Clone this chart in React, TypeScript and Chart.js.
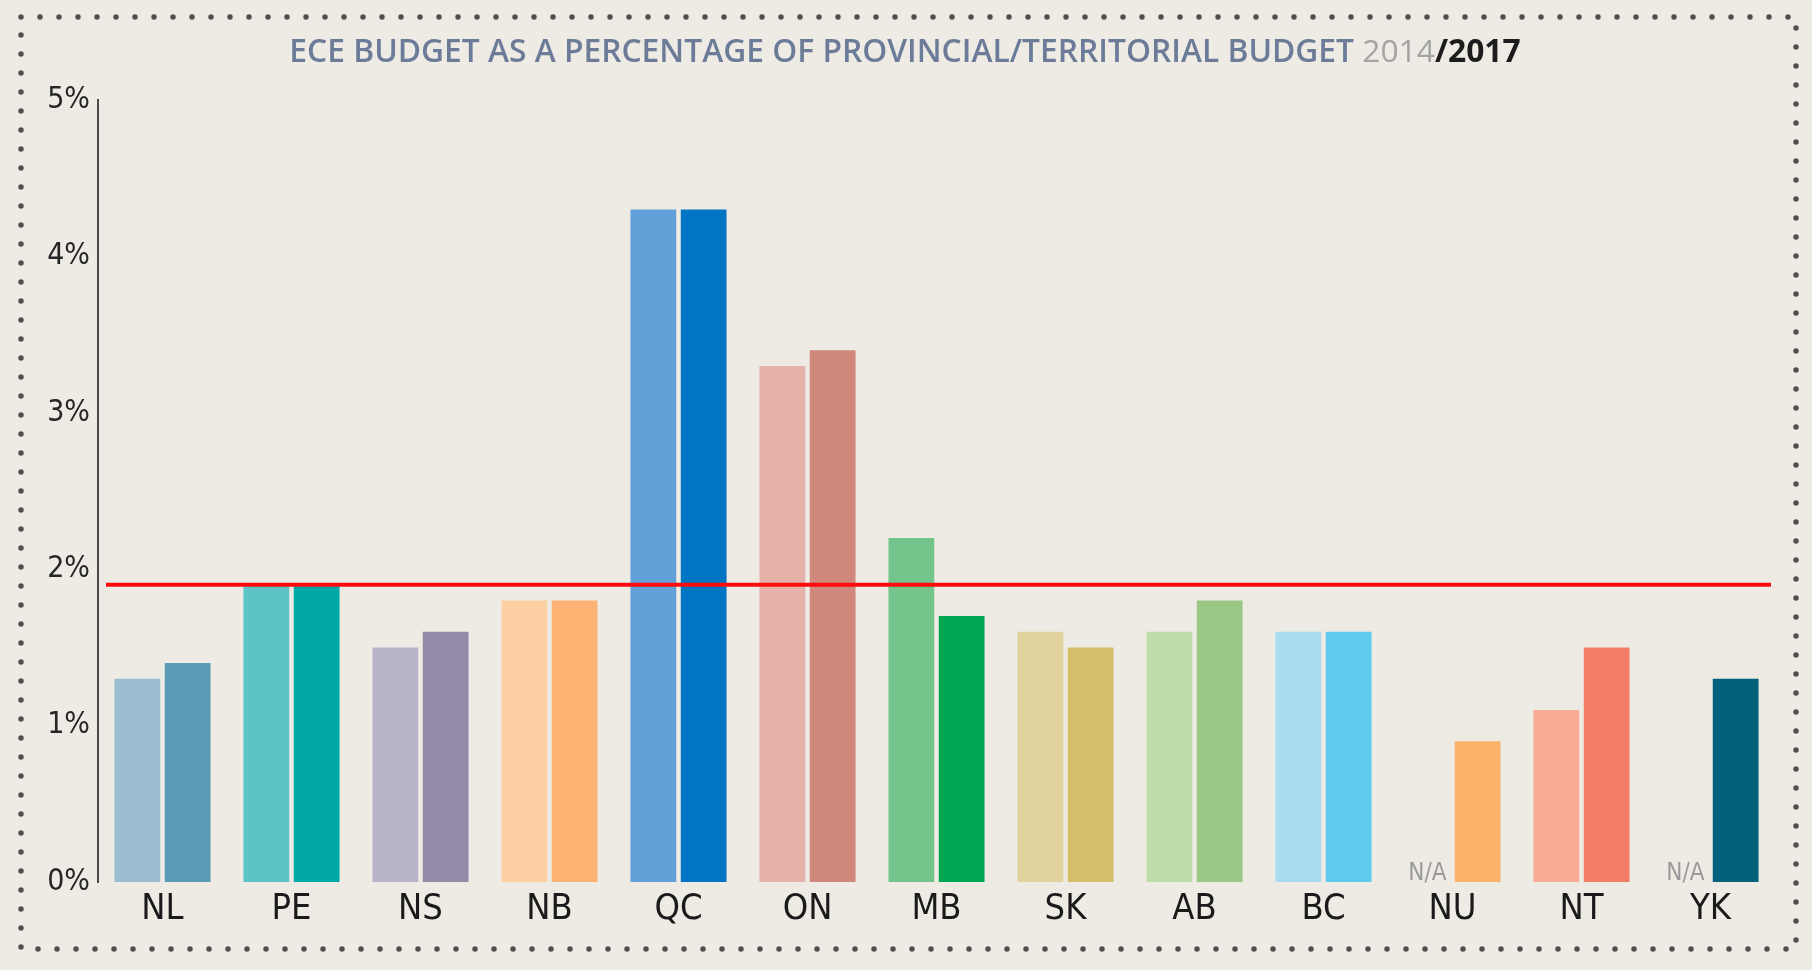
import React, { useEffect, useRef } from "react";
import { Chart, registerables } from "chart.js";

Chart.register(...registerables);

const categories = ["NL", "PE", "NS", "NB", "QC", "ON", "MB", "SK", "AB", "BC", "NU", "NT", "YK"];
const values2014: (number | null)[] = [1.3, 1.9, 1.5, 1.8, 4.3, 3.3, 2.2, 1.6, 1.6, 1.6, null, 1.1, null];
const values2017: (number | null)[] = [1.4, 1.9, 1.6, 1.8, 4.3, 3.4, 1.7, 1.5, 1.8, 1.6, 0.9, 1.5, 1.3];
const colors2014 = ["#9bbdd0", "#5cc4c6", "#b9b3c9", "#fdd0a4", "#639fd8", "#e4b2a8", "#73c58c", "#e1d39d", "#bedca9", "#a7dbf0", "#fdd0a4", "#f9ab95", "#5a9cb5"];
const colors2017 = ["#5b9bb6", "#00a8a6", "#948aa8", "#fbb273", "#0075c3", "#d0877c", "#00a651", "#d5be6a", "#9ac786", "#60caed", "#fdb26a", "#f27e68", "#03607a"];
const yTicks = [0, 1, 2, 3, 4, 5];
const referenceLine = 1.9;
const naLabel = "N/A";
const titleParts = [
  { text: "ECE BUDGET AS A PERCENTAGE OF PROVINCIAL/TERRITORIAL BUDGET ", color: "#6c7c98", weight: "600" },
  { text: "2014", color: "#a4a4a4", weight: "400" },
  { text: "/2017", color: "#1c1c1c", weight: "700" },
];

const decorPlugin = {
  id: "decor",
  beforeDraw(chart: any) {
    const ctx = chart.ctx;
    ctx.save();
    ctx.strokeStyle = "#505050";
    ctx.lineWidth = 5.5;
    ctx.lineCap = "round";
    ctx.setLineDash([0, 19]);
    ctx.beginPath();
    ctx.rect(21, 17, 1775, 932);
    ctx.stroke();
    ctx.restore();
  },
  afterDatasetsDraw(chart: any) {
    const ctx = chart.ctx;
    const ys = chart.scales.y;
    const area = chart.chartArea;
    const y = ys.getPixelForValue(referenceLine);
    ctx.save();
    ctx.strokeStyle = "#fb0d0d";
    ctx.lineWidth = 4;
    ctx.beginPath();
    ctx.moveTo(area.left + 8, y);
    ctx.lineTo(area.right - 4, y);
    ctx.stroke();

    const meta = chart.getDatasetMeta(0);
    ctx.fillStyle = "#9a9a9a";
    ctx.font = "300 24px 'DejaVu Sans Condensed', 'DejaVu Sans', sans-serif";
    ctx.textAlign = "center";
    ctx.textBaseline = "alphabetic";
    values2014.forEach((v, i) => {
      if (v === null) {
        const el = meta.data[i];
        const x = el && isFinite(el.x) ? el.x : chart.scales.x.getPixelForValue(i) - 25;
        ctx.fillText(naLabel, x, ys.getPixelForValue(0) - 2);
      }
    });
    ctx.restore();
  },
  afterDraw(chart: any) {
    const ctx = chart.ctx;
    ctx.save();
    const fam = "'Open Sans', 'DejaVu Sans', sans-serif";
    const measure = (size: number) =>
      titleParts.reduce((w, p) => {
        ctx.font = `${p.weight} ${size}px ${fam}`;
        return w + ctx.measureText(p.text).width;
      }, 0);
    const base = measure(100);
    const size = (100 * 1232) / base;
    const total = measure(size);
    let x = 905 - total / 2;
    ctx.textBaseline = "middle";
    ctx.textAlign = "left";
    titleParts.forEach((p) => {
      ctx.font = `${p.weight} ${size}px ${fam}`;
      ctx.fillStyle = p.color;
      ctx.fillText(p.text, x, 53);
      x += ctx.measureText(p.text).width;
    });
    ctx.restore();
  },
};

export default function App() {
  const ref = useRef<HTMLCanvasElement>(null);
  useEffect(() => {
    if (!ref.current) return;
    const chart = new Chart(ref.current, {
      type: "bar",
      data: {
        labels: categories,
        datasets: [
          { label: "2014", data: values2014, backgroundColor: colors2014, borderWidth: 0 },
          { label: "2017", data: values2017, backgroundColor: colors2017, borderWidth: 0 },
        ],
      },
      options: {
        animation: false,
        responsive: false,
        devicePixelRatio: 1,
        layout: { padding: { left: 0, top: 100, right: 37, bottom: 0 } },
        plugins: { legend: { display: false }, title: { display: false }, tooltip: { enabled: false } },
        datasets: { bar: { categoryPercentage: 0.78, barPercentage: 0.91, skipNull: false } },
        scales: {
          x: {
            grid: { display: false, drawTicks: false },
            border: { display: false },
            ticks: {
              color: "#1a1a1a",
              padding: 6,
              font: { family: "'DejaVu Sans Condensed', 'DejaVu Sans', sans-serif", size: 36, weight: "normal" },
            },
            afterFit: (s: any) => {
              s.height = 88;
            },
          },
          y: {
            min: 0,
            max: 5,
            afterBuildTicks: (s: any) => {
              s.ticks = yTicks.map((v) => ({ value: v }));
            },
            grid: { display: false, drawTicks: false },
            border: { display: true, color: "#4a4a4a", width: 2 },
            ticks: {
              color: "#262626",
              padding: 8,
              font: { family: "'DejaVu Sans Condensed', 'DejaVu Sans', sans-serif", size: 30, weight: "normal" },
              callback: (v: any) => `${v}%`,
            },
            afterFit: (s: any) => {
              s.width = 98;
            },
          },
        },
      },
      plugins: [decorPlugin],
    });
    return () => chart.destroy();
  }, []);
  return (
    <div style={{ position: "absolute", left: 0, top: 0, width: 1812, height: 970, background: "#eeebe5" }}>
      <canvas ref={ref} width={1812} height={970} style={{ display: "block", width: 1812, height: 970 }} />
    </div>
  );
}
